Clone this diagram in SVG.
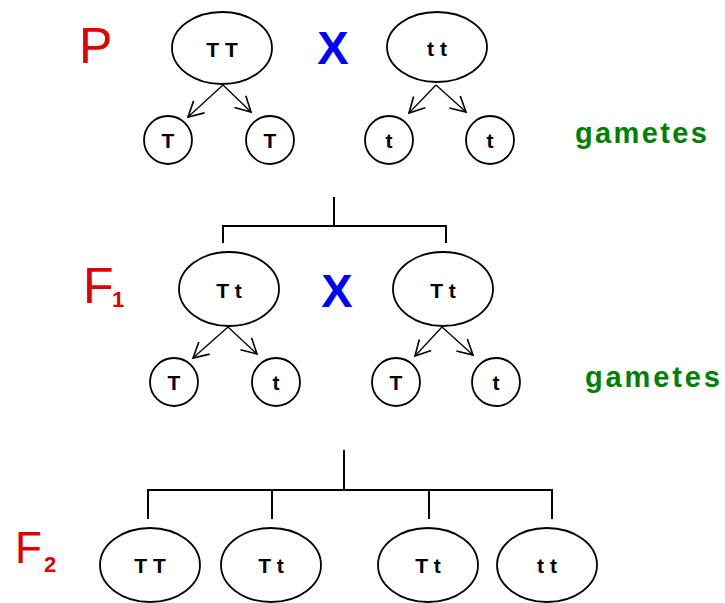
<svg xmlns="http://www.w3.org/2000/svg" width="725" height="603" viewBox="0 0 725 603">
<defs>
<style>
.e{fill:none;stroke:#000;stroke-width:1.8}
.g{font-family:"Liberation Sans",Arial,sans-serif;font-weight:bold;font-size:21px;text-anchor:middle;fill:#000}
.gen{font-family:"Liberation Sans",Arial,sans-serif;font-size:50px;fill:#e00000}
.sub{font-family:"Liberation Sans",Arial,sans-serif;font-weight:bold;font-size:22px;fill:#e00000}
.x{font-family:"Liberation Sans",Arial,sans-serif;font-weight:bold;font-size:47px;fill:#0000ff;text-anchor:middle}
.gam{font-family:"Liberation Sans",Arial,sans-serif;font-weight:bold;font-size:29px;fill:#008000}
.ln{fill:none;stroke:#000;stroke-width:2}
.ar{fill:none;stroke:#000;stroke-width:1.3;marker-end:url(#ah)}
</style>
<marker id="ah" markerUnits="userSpaceOnUse" markerWidth="20" markerHeight="20" viewBox="-14 -8 16 16" refX="0" refY="0" orient="auto">
<path d="M-12,-6.5 L0,0 L-12,6.5" fill="none" stroke="#000" stroke-width="1.3"/>
</marker>
</defs>
<rect width="725" height="603" fill="#fff"/>

<g id="labels">
<text class="gen" x="79" y="63">P</text>
<text class="gen" x="83" y="303">F</text><text class="sub" x="112" y="307">1</text>
<text class="gen" x="15" y="563" style="font-size:44px">F</text><text class="sub" x="44" y="572">2</text>
<text class="x" x="333" y="64">X</text>
<text class="x" x="337" y="307">X</text>
<text class="gam" x="575" y="143" textLength="132" lengthAdjust="spacing">gametes</text>
<text class="gam" x="585" y="387" textLength="135" lengthAdjust="spacing">gametes</text>
</g>

<g id="connectors">
<line class="ar" x1="223" y1="85" x2="188" y2="117"/>
<line class="ar" x1="223" y1="85" x2="251" y2="112"/>
<line class="ar" x1="436" y1="85" x2="409" y2="113"/>
<line class="ar" x1="436" y1="85" x2="466" y2="112"/>
<line class="ar" x1="228" y1="327" x2="193" y2="358"/>
<line class="ar" x1="228" y1="327" x2="257" y2="354"/>
<line class="ar" x1="442" y1="327" x2="415" y2="356"/>
<line class="ar" x1="442" y1="327" x2="473" y2="355"/>
<path class="ln" d="M334,197 V226 M223,243 V226 H446 V243"/>
<path class="ln" d="M344,450 V490 M148,519 V490 H552 V519 M272,490 V519 M429,490 V519"/>
</g>

<g id="p1"><ellipse class="e" cx="222" cy="48" rx="50" ry="36"/><text class="g" x="222" y="57">T T</text></g>
<g id="p2"><ellipse class="e" cx="437" cy="47" rx="50" ry="35"/><text class="g" x="437" y="56">t t</text></g>
<g id="pg1"><circle class="e" cx="168" cy="140" r="24"/><text class="g" x="168" y="148">T</text></g>
<g id="pg2"><circle class="e" cx="270" cy="140" r="24"/><text class="g" x="270" y="148">T</text></g>
<g id="pg3"><circle class="e" cx="389" cy="140" r="24"/><text class="g" x="389" y="148">t</text></g>
<g id="pg4"><circle class="e" cx="490" cy="140" r="24"/><text class="g" x="490" y="148">t</text></g>

<g id="f1a"><ellipse class="e" cx="229" cy="289" rx="50" ry="37"/><text class="g" x="229" y="298">T t</text></g>
<g id="f1b"><ellipse class="e" cx="443" cy="289" rx="50" ry="37"/><text class="g" x="443" y="298">T t</text></g>
<g id="fg1"><circle class="e" cx="174" cy="382" r="24"/><text class="g" x="174" y="390">T</text></g>
<g id="fg2"><circle class="e" cx="276" cy="382" r="24"/><text class="g" x="276" y="390">t</text></g>
<g id="fg3"><circle class="e" cx="396" cy="382" r="24"/><text class="g" x="396" y="390">T</text></g>
<g id="fg4"><circle class="e" cx="496" cy="382" r="24"/><text class="g" x="496" y="390">t</text></g>

<g id="f2a"><ellipse class="e" cx="150" cy="565" rx="50" ry="37"/><text class="g" x="150" y="573">T T</text></g>
<g id="f2b"><ellipse class="e" cx="271" cy="565" rx="50" ry="37"/><text class="g" x="271" y="573">T t</text></g>
<g id="f2c"><ellipse class="e" cx="428" cy="565" rx="50" ry="37"/><text class="g" x="428" y="573">T t</text></g>
<g id="f2d"><ellipse class="e" cx="547" cy="565" rx="50" ry="37"/><text class="g" x="547" y="573">t t</text></g>
</svg>
